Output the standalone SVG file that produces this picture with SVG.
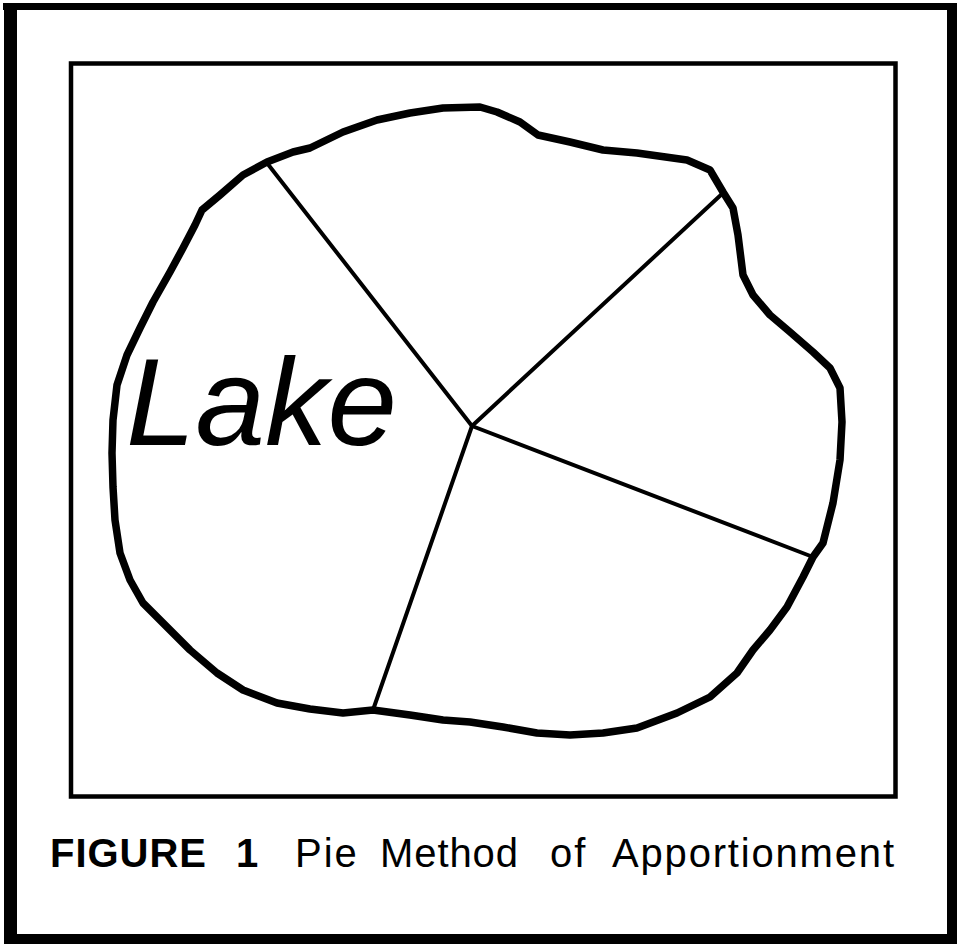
<svg xmlns="http://www.w3.org/2000/svg" width="957" height="950" viewBox="0 0 957 950">
<style>
.frame{fill:#000}
.inner{fill:none;stroke:#000;stroke-width:4.5}
.lake{fill:none;stroke:#000;stroke-width:7.5;stroke-linejoin:round;stroke-linecap:round}
.div{stroke:#000;stroke-width:4;stroke-linecap:round}
.cap{font-family:"Liberation Sans",Arial,sans-serif;font-size:40px;fill:#000;letter-spacing:2px}
.lbl{font-family:"Liberation Sans",Arial,sans-serif;font-style:italic;font-size:125px;fill:#000}
</style>
<rect width="957" height="950" fill="#fff"/>
<g id="outer-frame">
<rect class="frame" x="3" y="3" width="954" height="7"/>
<rect class="frame" x="4" y="3" width="13" height="941"/>
<rect class="frame" x="947" y="3" width="10" height="941"/>
<rect class="frame" x="4" y="934" width="953" height="10"/>
</g>
<g id="inner-frame">
<rect class="inner" x="71" y="63.5" width="824.5" height="733"/>
</g>
<g id="lake">
<path class="lake" d="M480,107 L497,112 L520,122 L538,135 L570,142 L603,150 L637,153 L687,160 L710,170 L723,192 L733,208 L738,235 L743,275 L753,295 L770,315 L790,332 L813,352 L830,368 L840,388 L842,422 L840,460 L833,503 L823,543 L813,557 L803,577 L787,607 L770,630 L753,650 L737,673 L710,697 L677,713 L637,728 L603,733 L570,735 L537,733 L503,727 L470,722 L443,720 L410,715 L373,710 L343,713 L310,709 L277,703 L243,690 L217,673 L190,650 L167,627 L143,603 L130,580 L120,553 L115,520 L113,487 L112,453 L113,420 L117,385 L127,355 L140,328 L153,302 L170,272 L183,248 L195,225 L202,210 L220,195 L243,175 L267,162 L293,152 L310,148 L343,132 L377,120 L410,113 L443,108 Z"/>
<text class="lbl" x="126" y="445">Lake</text>
</g>
<g id="connectors">
<line class="div" x1="472" y1="426" x2="267" y2="163"/>
<line class="div" x1="472" y1="426" x2="723" y2="193"/>
<line class="div" x1="472" y1="426" x2="813" y2="557"/>
<line class="div" x1="472" y1="426" x2="373" y2="710"/>
</g>
<g id="caption">
<text class="cap" y="867"><tspan x="50" font-weight="bold" textLength="158" lengthAdjust="spacing">FIGURE</tspan><tspan x="236" font-weight="bold">1</tspan><tspan x="295">Pie</tspan><tspan x="380" textLength="140" lengthAdjust="spacing">Method</tspan><tspan x="550">of</tspan><tspan x="612" textLength="284" lengthAdjust="spacing">Apportionment</tspan></text>
</g>
</svg>
